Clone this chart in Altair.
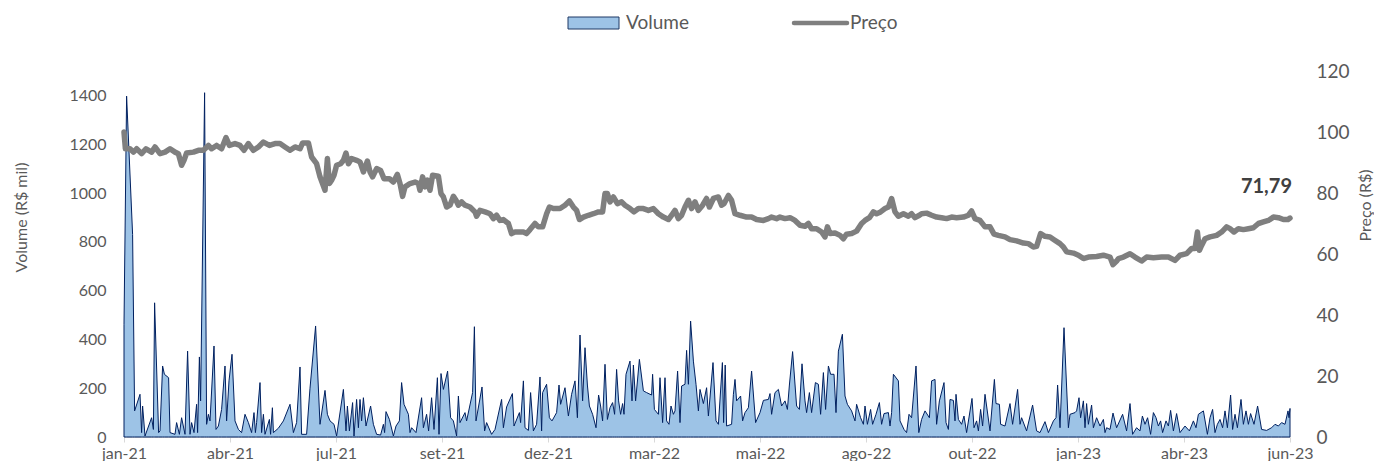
import altair as alt
import pandas as pd

# ---------------- data ----------------
month_labels = ["jan-21", "abr-21", "jul-21", "set-21", "dez-21", "mar-22",
                "mai-22", "ago-22", "out-22", "jan-23", "abr-23", "jun-23"]
tick_step = 53  # trading-day index between labelled ticks
last_index = 583

vol_day = [0, 1.3, 4.3, 5.3, 8, 8.8, 9.3, 10.5, 13.8, 14.7, 15.3, 17.3, 18, 19.3, 20.2, 22.3, 23, 25.5, 26.3, 27.7,
           28.8, 30.5, 31.8, 33, 33.8, 35, 36.3, 36.8, 37.7, 38.3, 40.3, 41.3, 42.2, 43, 45, 46, 47.2, 48.8, 50.5, 51.3,
           52.5, 54, 55.5, 57.2, 58.8, 60.5, 62.2, 63.8, 65, 65.7, 66.3, 68, 68.8, 69.7, 70.5, 72.7, 73.3, 74.2, 74.7, 77.2,
           79.7, 83, 84.7, 86.3, 88, 88.8, 91.3, 93, 95.8, 98, 100.5, 101.7, 103, 105, 106.3, 109.7, 111, 111.7, 112.7, 114.3,
           115, 116.3, 117.2, 118, 118.8, 119.7, 121, 123.3, 124.7, 126.3, 128.3, 129.7, 130.3, 131, 132.7, 134.7, 136, 137.7, 138.8, 140,
           142.2, 143, 143.8, 146, 148.8, 149.7, 151.3, 152.3, 153.8, 155, 156.7, 157.5, 158.5, 159.7, 161.8, 163.3, 164.7, 166.3, 167.2, 168,
           170.5, 171.3, 174.3, 175.2, 176, 179, 180.3, 181.3, 183.8, 185.5, 188.8, 189.7, 191.3, 194.2, 195, 197.7, 198.3, 199.7, 200.5, 202.2,
           203.3, 204.7, 206.3, 208, 208.8, 209.3, 211.3, 212.7, 214, 216.3, 217.5, 218.3, 220.5, 222.2, 223.8, 225.5, 226.7, 228, 229.3, 230.5,
           231.7, 232.7, 234.3, 236, 237.3, 238.3, 239.3, 240.5, 241.7, 243, 244.3, 245.3, 246.3, 247.3, 248.3, 249.3, 250, 251, 253, 254,
           254.7, 255.8, 257.7, 259.7, 261.3, 263.8, 264.3, 265.2, 267.2, 268, 269.3, 270.5, 271.3, 272.5, 273.5, 274.7, 275.5, 276.8, 278, 278.8,
           280.5, 281.3, 282.2, 283.3, 284.7, 286, 287.2, 288, 289.7, 291.3, 292.2, 294.5, 296, 297.2, 299.2, 299.8, 300.6, 301.3, 303.8, 304.7,
           305.5, 306.3, 308.3, 309.3, 310.5, 312.2, 313.8, 315.8, 318, 319.7, 322.2, 323, 323.8, 325.5, 327.2, 328.8, 330.5, 331.7, 332.7, 334.3,
           336.3, 337.7, 339, 340.5, 341.3, 342.7, 343.8, 345.7, 347.2, 348.3, 349.7, 350.8, 352.2, 353.3, 355, 356, 357.2, 359.2, 360.5, 361.7,
           363.8, 365.5, 366.3, 368.3, 369.7, 370.5, 371.7, 373.3, 374.3, 376, 377.7, 378.8, 380, 382.2, 383, 383.8, 384.7, 387.2, 388, 390,
           391.3, 392.5, 393.8, 396, 397.4, 398.8, 400.5, 402.7, 403.8, 405.5, 406.3, 407.7, 410, 411, 412.2, 413, 414.7, 415.5, 416, 417.2,
           418.8, 420, 421.3, 424, 425, 426.3, 427.2, 428.3, 429.3, 430.5, 433, 435.2, 436, 437.7, 438.3, 440.5, 443, 444.3, 446.8, 448,
           448.8, 451.3, 454.3, 456.3, 458, 460.5, 462.2, 464.7, 466, 466.8, 468, 470, 472.2, 473, 475.5, 476.3, 477.5, 478.3, 479.7, 480.5,
           481.3, 482.2, 483.8, 484.7, 486.3, 488, 489.7, 490.5, 491.3, 493, 494.5, 496.3, 499.3, 501.3, 503, 504.3, 506.3, 508, 509.2, 510.5,
           511.8, 513.3, 514.7, 516, 517.2, 518.3, 519.3, 521, 522.2, 523.3, 524.7, 526.3, 528, 530.5, 532.7, 534.7, 536, 537.2, 539.7, 541.7,
           543, 544.3, 545.5, 546.7, 548, 549.3, 550.5, 551.7, 553.3, 554.3, 555.5, 556.7, 558.5, 559.7, 561, 562.2, 563.3, 565, 566.8, 568.8,
           571.3, 573.8, 575.5, 577.2, 578.8, 580.5, 582, 582.5, 583]
vol_value = [462, 1397, 830, 107, 175, 18, 127, 4, 79, 31, 550, 18, 25, 291, 257, 243, 18, 11, 59, 11,
             79, 11, 352, 11, 59, 18, 134, 18, 328, 148, 1411, 52, 93, 66, 373, 31, 45, 113, 291, 66,
             230, 339, 66, 31, 18, 93, 59, 18, 100, 18, 59, 223, 18, 93, 11, 72, 11, 120, 18, 36,
             66, 134, 18, 59, 287, 11, 11, 200, 455, 52, 191, 93, 66, 52, 4, 195, 25, 127, 25, 141,
             4, 154, 38, 154, 66, 161, 45, 127, 52, 11, 8, 52, 18, 104, 72, 4, 45, 66, 223, 134,
             93, 18, 38, 18, 161, 38, 93, 25, 161, 31, 243, 11, 260, 195, 270, 79, 66, 4, 168, 59,
             100, 66, 182, 452, 66, 205, 25, 59, 11, 31, 154, 38, 123, 178, 45, 100, 59, 230, 38, 27,
             182, 25, 52, 246, 25, 182, 216, 79, 66, 100, 213, 134, 202, 86, 175, 230, 79, 418, 148, 366,
             213, 127, 93, 38, 172, 127, 66, 298, 72, 120, 141, 93, 277, 148, 93, 137, 93, 257, 311, 148,
             295, 148, 318, 189, 182, 172, 257, 113, 93, 243, 59, 243, 66, 52, 127, 93, 107, 270, 59, 209,
             216, 355, 216, 475, 311, 216, 107, 195, 137, 202, 86, 305, 66, 52, 305, 59, 295, 45, 52, 175,
             236, 148, 168, 66, 100, 120, 270, 59, 100, 150, 154, 178, 93, 182, 195, 127, 148, 113, 213, 350,
             127, 113, 300, 148, 100, 182, 100, 223, 216, 93, 264, 113, 291, 257, 257, 100, 352, 421, 168, 134,
             107, 66, 134, 79, 52, 127, 52, 113, 52, 93, 141, 52, 96, 100, 45, 100, 257, 230, 66, 31,
             18, 93, 79, 291, 18, 72, 107, 79, 230, 236, 52, 148, 223, 59, 31, 154, 150, 66, 175, 72,
             52, 86, 18, 158, 38, 66, 25, 113, 45, 175, 25, 236, 137, 134, 52, 45, 137, 52, 195, 52,
             79, 25, 131, 25, 18, 63, 18, 66, 79, 213, 38, 448, 38, 93, 100, 107, 161, 79, 148, 38,
             137, 52, 131, 38, 79, 45, 72, 18, 38, 31, 98, 38, 93, 25, 137, 11, 38, 25, 86, 52,
             79, 11, 100, 79, 45, 66, 18, 66, 45, 109, 25, 96, 18, 45, 25, 66, 38, 93, 107, 11,
             79, 113, 18, 52, 72, 38, 107, 38, 172, 31, 93, 38, 154, 52, 107, 52, 96, 52, 127, 31,
             27, 38, 52, 45, 59, 52, 107, 79, 117]

price_day = [0, 0.7, 3, 4.7, 6.3, 8.8, 11, 13.8, 15.5, 18, 20.5, 23, 25.5, 27.2, 28.8, 30, 31.3, 34.7, 37.2, 39.7,
             42.2, 43.8, 46.3, 48.8, 51, 52.7, 55.5, 58, 60, 62.2, 64.7, 67.2, 69.7, 72.7, 75.5, 78, 80.5, 83, 85.5, 88,
             89.3, 92.2, 93.8, 96.3, 98, 100.5, 101.7, 102.7, 103.8, 105, 106.3, 108.3, 109.7, 111, 112.2, 113.8, 116.3, 118, 119.7, 121.7,
             123, 124.3, 126.3, 128.3, 130, 132.7, 134.7, 136.7, 138, 139.3, 140.5, 143, 145.5, 147.2, 148, 149.3, 150.5, 151.7, 153, 154.3,
             157.2, 158.5, 159.7, 161.3, 163, 164.7, 166, 167.2, 168.8, 170.5, 173, 175.5, 176.3, 178, 180.5, 183, 184.7, 186.3, 188, 189.7,
             192.2, 193.8, 195.5, 197.7, 199.7, 201.3, 203, 205.5, 207.2, 209.3, 211.3, 212.7, 214.7, 218, 220.5, 222.7, 224.7, 226.3, 227.7, 229.7,
             232.2, 234.7, 237.2, 239.3, 240.5, 241.7, 243, 244.7, 246.7, 248.8, 250.5, 253, 255, 257.2, 259.7, 262.2, 264.7, 267.2, 269.7, 272.2,
             273.8, 275.5, 277.2, 278.8, 280.5, 282.2, 283.8, 285.5, 287.2, 289.3, 291.3, 292.7, 294.7, 297.2, 298.8, 300, 302.2, 303.8, 305.5, 308,
             311.3, 313.8, 316.3, 319.7, 322.2, 323.8, 326.3, 328, 330.5, 333, 335.5, 338, 340.5, 342.2, 343.8, 346.3, 348.8, 350.5, 351.7, 353,
             355.5, 358, 359.7, 361.3, 363.8, 366.3, 368.8, 370.5, 372.7, 374.7, 376.3, 378.3, 380.5, 382.2, 383.8, 385.5, 387.2, 389.7, 392.2, 393.8,
             395.5, 397.7, 398.8, 401.3, 403.8, 406.3, 408.8, 411.3, 413.8, 416.3, 419.7, 422.2, 423.8, 425.5, 428, 430.5, 433, 435, 437.2, 440.5,
             443, 446.3, 449.7, 452.2, 454.7, 456.3, 458.3, 460.5, 463, 465, 468, 469.7, 471.3, 474.7, 477.2, 479.7, 482.2, 486.3, 489.7, 493,
             494.5, 496.3, 497.2, 499.7, 503, 505.5, 508.8, 511.3, 514.7, 518.8, 522.2, 525.5, 528, 531.3, 533.8, 535.5, 536.7, 537.7, 538.8, 540.5,
             543, 546.3, 548.8, 551.3, 553, 555, 557.2, 559.7, 562.2, 564.7, 567.2, 569.7, 572.2, 574.7, 577.2, 579.7, 582, 583]
price_value = [100, 94.5, 94.5, 93.4, 94.5, 92.9, 94.5, 93.4, 95.1, 92.9, 93.4, 94.5, 93.4, 92.9, 89.1, 90.7, 93.1, 93.4, 94, 94,
               95.6, 94.5, 95.6, 94.5, 98.2, 95.6, 96.2, 95.6, 94, 96.2, 94, 95.1, 96.7, 95.6, 96.2, 96.2, 95.1, 94, 95.1, 94.5,
               96.4, 96.4, 91.8, 89.6, 85.3, 80.9, 91.3, 83.1, 84.2, 85.8, 89.1, 89.6, 90.7, 93.1, 89.6, 91.3, 90.7, 90.2, 86.9, 90.5,
               86.9, 85.3, 88, 87.4, 84.7, 84.7, 83.6, 86.1, 83.1, 78.9, 82, 83.1, 83.6, 83.1, 80.9, 85.3, 82, 84.2, 80.9, 85.8,
               85.5, 79.8, 78.7, 75.4, 76, 78.9, 77.6, 76, 77.1, 76, 75.4, 73.8, 72.4, 74.3, 73.8, 73.2, 71.6, 72.7, 71, 71.3,
               70, 66.7, 67.2, 67.2, 67.2, 66.7, 68, 70, 68.9, 68.9, 73.2, 75.4, 74.9, 74.9, 76, 77.4, 75.4, 74.3, 71.3, 72.1,
               72.7, 73.2, 73.8, 73.8, 79.8, 79.8, 77.1, 78.7, 76.5, 77.1, 76, 74.9, 73.8, 74.9, 74.9, 74.3, 74.9, 73.2, 72.1, 71.3,
               72.7, 74.3, 71.6, 72.7, 75.4, 77.6, 74.9, 77.1, 74.3, 76, 78.2, 75.4, 78.2, 78.7, 76, 76.5, 79.2, 77.6, 73.2, 72.7,
               72.1, 72.1, 71.3, 71, 71.6, 72.1, 71.6, 72.1, 71.6, 71.9, 71, 69.4, 69.1, 70, 68.3, 68.3, 67.2, 65.6, 68.9, 66.7,
               66.9, 66.1, 65, 66.5, 66.7, 67.5, 70, 71, 71.9, 73.8, 73.2, 73.8, 74.9, 75.4, 78.2, 73.8, 72.4, 73.2, 72.4, 73.2,
               71.9, 72.7, 73.2, 73.4, 72.7, 72.1, 71.9, 71.6, 72.1, 71.9, 72.1, 72.7, 74.1, 71.6, 71, 68.9, 68.9, 66.5, 66.1, 65.6,
               64.7, 64.3, 63.6, 63.4, 62.3, 62.5, 66.7, 65.8, 65.6, 64.7, 63.4, 62.3, 60.7, 60.3, 59.6, 58.5, 59, 59.2, 59.6, 59,
               56.5, 57.7, 58.5, 59, 60.1, 59, 57.7, 59, 58.8, 59, 59, 57.9, 59.6, 60.1, 61.8, 61.8, 67.2, 61.2, 62.8, 65,
               65.6, 66.1, 67.2, 68.9, 68.3, 67.2, 68.3, 68, 68.3, 68.6, 70, 70.5, 71, 72.1, 71.9, 71.3, 71.3, 71.79]

last_price_text = "71,79"
legend_items = ["Volume", "Preço"]

# ---------------- styling ----------------
FONT = "Lato"
TXT = "#595959"
AREA_FILL = "#9DC3E6"
AREA_LINE = "#002060"
PRICE_COLOR = "#7F7F7F"

vol_df = pd.DataFrame({"day": vol_day, "volume": vol_value})
price_df = pd.DataFrame({"day": price_day, "price": price_value})
last_df = pd.DataFrame({"day": [price_day[-1]], "price": [price_value[-1]], "label": [last_price_text]})
one = pd.DataFrame({"k": [0]})

x_scale = alt.Scale(domain=[0, last_index], nice=False, zero=False)
label_expr = "[" + ",".join(f"'{m}'" for m in month_labels) + f"][round(datum.value / {tick_step})]"
x_axis = alt.Axis(
    values=[i * tick_step for i in range(len(month_labels))],
    labelExpr=label_expr, title=None, grid=False,
    domainColor="#D9D9D9", tickColor="#D9D9D9", tickSize=5,
    labelFont=FONT, labelFontSize=16, labelColor=TXT, labelPadding=3,
    labelFlush=False, labelOverlap=False,
)

vol_scale = alt.Scale(domain=[0, 1500], nice=False)
price_scale = alt.Scale(domain=[0, 120], nice=False)

vol_axis = alt.Axis(
    values=list(range(0, 1401, 200)), format="d", title="Volume (R$ mil)", grid=False, ticks=False, domain=False,
    labelFont=FONT, labelFontSize=16, labelColor=TXT, labelPadding=18,
    titleFont=FONT, titleFontSize=16, titleFontWeight="normal", titleColor=TXT,
    titleAngle=270, titleX=-103, titleY=146, titleAlign="center", titleBaseline="middle")

price_axis = alt.Axis(
    orient="right", values=list(range(0, 121, 20)), format="d", title="Preço (R$)", grid=False, ticks=False, domain=False,
    labelFont=FONT, labelFontSize=19, labelColor=TXT, labelPadding=26,
    titleFont=FONT, titleFontSize=16, titleFontWeight="normal", titleColor=TXT,
    titleAngle=270, titleX=75, titleY=134, titleAlign="center", titleBaseline="middle")

volume = alt.Chart(vol_df).mark_area(
    fill=AREA_FILL, fillOpacity=1, stroke=AREA_LINE, strokeWidth=1, opacity=1
).encode(
    x=alt.X("day:Q", scale=x_scale, axis=x_axis),
    y=alt.Y("volume:Q", scale=vol_scale, axis=vol_axis),
)

price_line = alt.Chart(price_df).mark_line(
    color=PRICE_COLOR, strokeWidth=5.5, strokeJoin="round", strokeCap="round"
).encode(
    x=alt.X("day:Q", scale=x_scale, axis=x_axis),
    y=alt.Y("price:Q", scale=price_scale, axis=price_axis),
)

price_label = alt.Chart(last_df).mark_text(
    align="right", baseline="middle", dy=-31, dx=2, font=FONT, fontSize=20, fontWeight="bold", color="#404040"
).encode(
    x=alt.X("day:Q", scale=x_scale, axis=x_axis),
    y=alt.Y("price:Q", scale=price_scale, axis=price_axis),
    text="label:N",
)

price_layer = alt.layer(price_line, price_label)

# legend (drawn above the plot area)
leg_rect = alt.Chart(one).mark_rect(fill=AREA_FILL, stroke="#1F3864", strokeWidth=1).encode(
    x=alt.value(444), x2=alt.value(495), y=alt.value(-54), y2=alt.value(-42))
leg_vol_text = alt.Chart(one).mark_text(align="left", baseline="middle", font=FONT, fontSize=19, color=TXT).encode(
    x=alt.value(502), y=alt.value(-48), text=alt.value(legend_items[0]))
leg_line = alt.Chart(one).mark_rule(color=PRICE_COLOR, strokeWidth=4.5, strokeCap="round").encode(
    x=alt.value(670), x2=alt.value(723), y=alt.value(-48))
leg_price_text = alt.Chart(one).mark_text(align="left", baseline="middle", font=FONT, fontSize=19, color=TXT).encode(
    x=alt.value(726), y=alt.value(-48), text=alt.value(legend_items[1]))

chart = alt.layer(
    volume, price_layer, leg_rect, leg_vol_text, leg_line, leg_price_text
).resolve_scale(y="independent").properties(
    width=1166, height=366,
    autosize=alt.AutoSizeParams(type="none"),
    padding={"left": 116, "top": 63, "right": 84, "bottom": 24},
).configure_view(stroke=None)

chart.save("out.html", embed_options={"renderer": "svg", "actions": False})
